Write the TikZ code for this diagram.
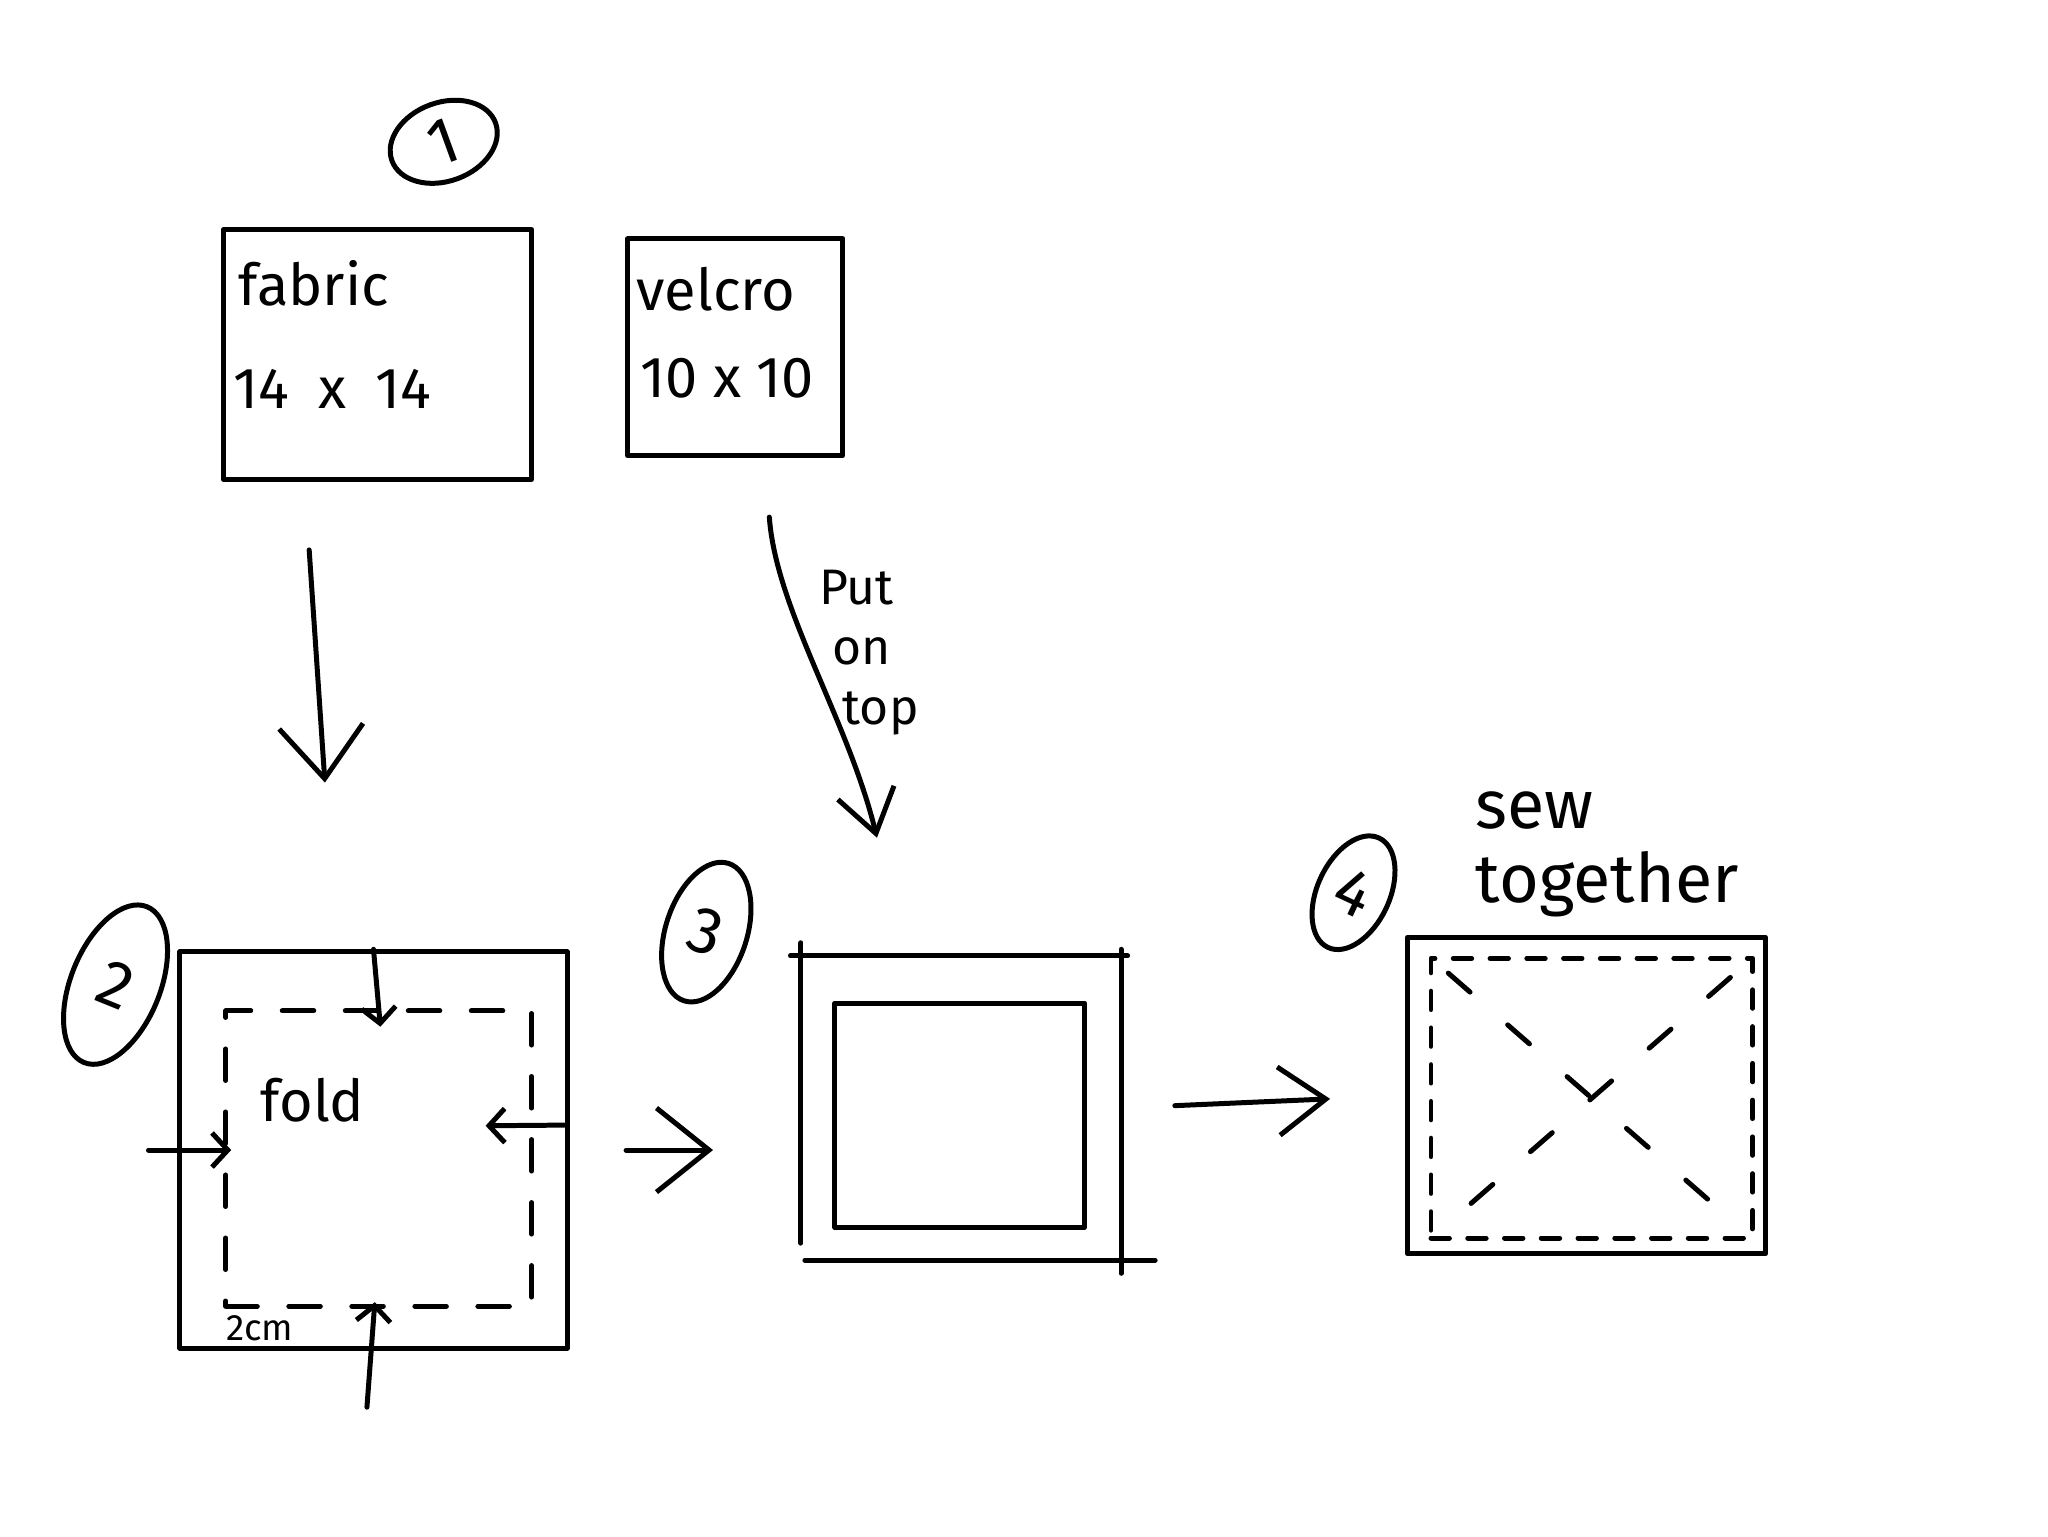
\documentclass[tikz,border=0pt]{standalone}
\usepackage{fontspec}
\setmainfont{Fira Sans}
\usetikzlibrary{positioning,fit,calc,shapes.geometric,arrows.meta}

\begin{document}
\begin{tikzpicture}[x=1pt, y=-1pt, line width=3.8pt, line cap=round, line join=round,
  sheet/.style={draw, inner sep=0pt},
  hand/.style={inner sep=0pt, font=\fontsize{44}{48}\selectfont},
  stepno/.style={draw, ellipse, inner sep=0pt, font=\fontsize{50}{50}\selectfont},
  flow/.style={-{Straight Barb[length=40pt, width=64pt]}},
  tuck/.style={-{Straight Barb[length=12pt, width=26pt]}},
  hemline/.style={draw, inner sep=0pt, dash pattern=on 24pt off 24pt},
  stitch/.style={dash pattern=on 14pt off 14pt}]

\useasboundingbox (0,0) rectangle (1560,1170);

% step 1
\node[stepno, minimum width=84, minimum height=60, rotate=20] (n1) at (338,108) {1};
\node[sheet, fit={(170,175) (405,365)}] (fabric) {};
\node[hand, anchor=west] (fabrictxt) at ([shift={(12,43)}]fabric.north west) {fabric};
\node[hand, anchor=west] (fabricsize) at ([shift={(8,123)}]fabric.north west) {14\enspace x\enspace 14};
\node[sheet, fit={(478,182) (642,347)}] (velcro) {};
\node[hand, anchor=west] (velcrotxt) at ([shift={(7,40)}]velcro.north west) {velcro};
\node[hand, anchor=west] (velcrosize) at ([shift={(10,108)}]velcro.north west) {10 x 10};

% step 2
\node[stepno, minimum width=68, minimum height=128, rotate=-22] (n2) at (88,750) {2};
\node[sheet, fit={(137,725) (432,1027)}] (folded) {};
\node[hemline, fit={(172,770) (405,995)}] (hem) {};
\node[hand] (foldtxt) at ([shift={(68,70)}]hem.north west) {fold};
\node[hand, font=\fontsize{28}{28}\selectfont] (cm) at ([shift={(28,15)}]hem.south west) {2cm};
\draw[tuck, shorten >=-14pt] (folded.north) -- (hem.north);
\draw[tuck, shorten <=-22pt, shorten >=-6pt] (folded.west) -- (folded.west -| hem.west);
\draw[tuck] ([shift={(-4,-19)}]folded.east) -- ([shift={(-37,-25)}]hem.east);
\draw[tuck] ([shift={(-5,43)}]folded.south) -- ([shift={(-3,-5)}]hem.south);

% step 3
\node[stepno, minimum width=62, minimum height=110, rotate=-18] (n3) at (538,710) {3};
\node[fit={(612,730) (852,958)}, inner sep=0pt] (placed) {};
\draw ([shift={(-8,0)}]placed.north west) -- ([shift={(5,0)}]placed.north east)
      ([shift={(0,-10)}]placed.north west) -- ([shift={(0,-13)}]placed.south west)
      ([shift={(0,-5)}]placed.north east) -- ([shift={(0,10)}]placed.south east)
      ([shift={(3,0)}]placed.south west) -- ([shift={(26,0)}]placed.south east);
\node[sheet, fit={(636,764) (826,935)}] (patch) {};

% step 4
\node[stepno, minimum width=55, minimum height=92, rotate=-25] (n4) at (1031,680) {4};
\node[sheet, fit={(1072,714) (1345,955)}] (sewn) {};
\node[draw, stitch, inner sep=0pt, fit={(1090,730) (1335,943)}] (seam) {};
\draw[dash pattern=on 22pt off 38pt, shorten <=20pt, shorten >=40pt] (seam.north west) -- (seam.south east);
\draw[dash pattern=on 22pt off 38pt, shorten <=25pt, shorten >=15pt] (seam.north east) -- (seam.south west);
\node[hand, font=\fontsize{52}{56}\selectfont, align=left, anchor=south west] (sewtxt) at ([shift={(52,-12)}]sewn.north west) {sew\\together};

\draw[flow] (fabric.south) ++(-52,52) coordinate (a1) -- ([shift={(-37,-127)}]folded.north);
\draw[flow, -{Straight Barb[length=32pt, width=44pt]}] ([shift={(26,45)}]velcro.south) .. controls +(5,70) and +(-22,-90) .. ([shift={(-64,-90)}]placed.north);
\node[font=\fontsize{38}{46}\selectfont, align=left, anchor=north west, inner sep=0pt] (puttxt) at (622,432) {Put\\\hspace*{10pt}on\\\hspace*{18pt}top};
\draw[flow, shorten <=43pt, shorten >=67pt] (folded.east) -- (folded.east -| placed.west);
\draw[flow, -{Straight Barb[length=36pt, width=52pt]}, shorten <=41pt, shorten >=57pt] (placed.east) -- (sewn.west);
\end{tikzpicture}
\end{document}
